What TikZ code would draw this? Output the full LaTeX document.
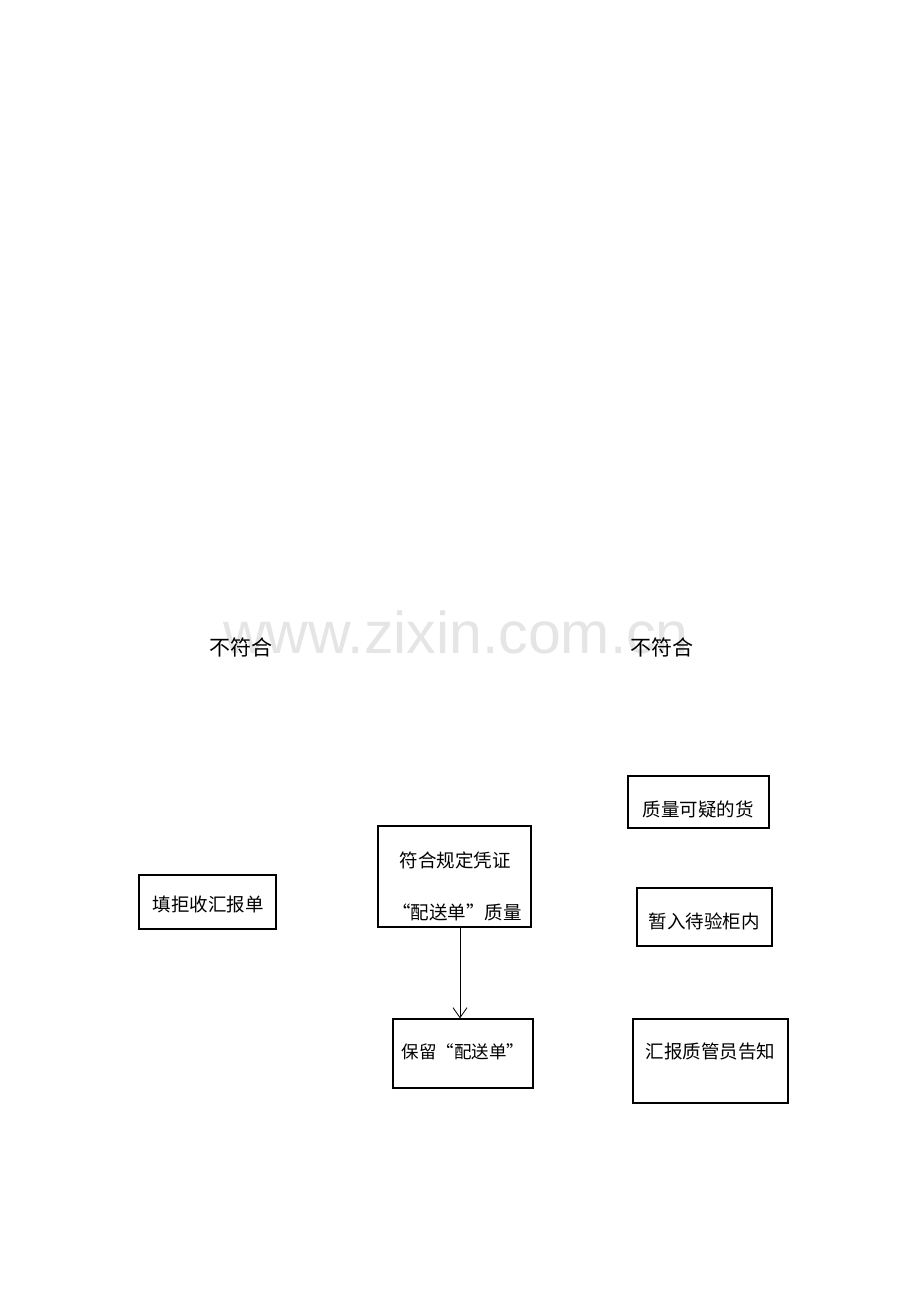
\documentclass[tikz,border=0pt]{standalone}
\usepackage{fontspec}
\setmainfont{Noto Sans CJK SC}
\newfontfamily\wmfont{Liberation Sans}
\usetikzlibrary{arrows.meta}
\begin{document}
\begin{tikzpicture}[x=1pt,y=-1pt,
  box/.style={draw,line width=1.3pt,inner sep=0pt},
  txt/.style={inner sep=0pt,font=\fontsize{18.5}{22}\selectfont},
  lbl/.style={inner sep=0pt,font=\fontsize{21}{24}\selectfont},
  conn/.style={line width=0.8pt,-{Straight Barb[length=10pt,width=14pt,line width=0.8pt]}}]
\useasboundingbox (0,0) rectangle (920,1302);
\fill[white] (0,0) rectangle (920,1302);
% watermark
\node[inner sep=0pt,anchor=base,text=black!10,font=\wmfont\fontsize{59}{62}\selectfont] (wm) at (456,653) {www.zixin.com.cn};
% labels
\node[lbl] (l1) at (240.5,647) {不符合};
\node[lbl] (l2) at (662,647) {不符合};
% boxes
\node[box,minimum width=137pt,minimum height=54pt] (jushou) at (207.5,902) {};
\node[txt] (jushoutxt) at (208,904) {填拒收汇报单};
\node[box,minimum width=153pt,minimum height=101pt] (fuhe) at (454.5,876.5) {};
\node[txt] (fuhe1) at (455,860) {符合规定凭证};
\node[txt] (fuhe2) at (457,912) {“配送单”质量};
\node[box,minimum width=140pt,minimum height=69pt] (baoliu) at (463,1053.5) {};
\node[txt,font=\fontsize{17.5}{21}\selectfont] (baoliutxt) at (463,1052) {保留“配送单”};
\node[box,minimum width=141pt,minimum height=52pt] (keyi) at (698.5,802) {};
\node[txt] (keyitxt) at (698,809) {质量可疑的货};
\node[box,minimum width=135pt,minimum height=58pt] (zanru) at (704.5,917) {};
\node[txt] (zanrutxt) at (704,921) {暂入待验柜内};
\node[box,minimum width=155pt,minimum height=84pt] (huibao) at (710.5,1061) {};
\node[txt] (huibaotxt) at (710.5,1052) {汇报质管员告知};
% connector
\draw[conn] (fuhe.south -| 460,0) -- (baoliu.north -| 460,0);
\end{tikzpicture}
\end{document}
